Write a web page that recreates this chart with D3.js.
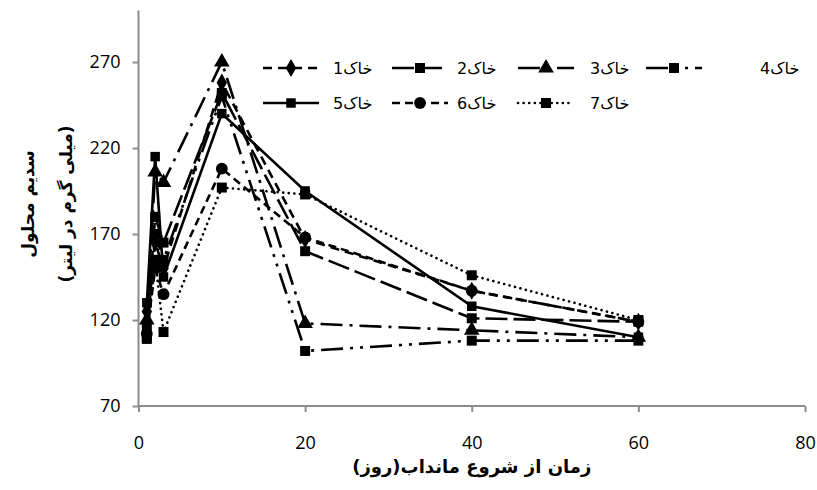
<!DOCTYPE html>
<html>
<head>
<meta charset="utf-8">
<script src="https://cdn.jsdelivr.net/npm/d3@7"></script>
<style>
  html, body { margin: 0; padding: 0; background: #fff; }
  svg { display: block; }
</style>
</head>
<body>
<svg id="chart" width="817" height="490"></svg>
<script>
// Days since the start of submergence
const days = [1, 2, 3, 10, 20, 40, 60];

// Soluble sodium (mg/L) for each soil
const soil1 = [125, 165, 150, 258, 167, 137, 119];
const soil2 = [115, 180, 165, 252, 160, 121, 119];
const soil3 = [120, 206, 200, 270, 118, 114, 110];
const soil4 = [110, 170, 155, 250, 102, 108, 108];
const soil5 = [130, 215, 145, 240, 195, 128, 110];
const soil6 = [112, 150, 135, 208, 168, 137, 119];
const soil7 = [109, 155, 113, 197, 193, 146, 120];

const seriesNames = ["خاک1", "خاک2", "خاک3", "خاک4", "خاک5", "خاک6", "خاک7"];
const seriesValues = [soil1, soil2, soil3, soil4, soil5, soil6, soil7];

const xTicks = [0, 20, 40, 60, 80];
const yTicks = [70, 120, 170, 220, 270];

const xTitle = "زمان از شروع مانداب(روز)";
const yTitle1 = "سدیم محلول";
const yTitle2 = "(میلی گرم در لیتر)";

// Line / marker styles per soil
const styles = [
  { dash: "9,6",               marker: "diamond" },
  { dash: "22,6",              marker: "square" },
  { dash: "22,7,3,7",          marker: "triangle" },
  { dash: "22,7,3,7,3,7",      marker: "square" },
  { dash: null,                marker: "xsquare" },
  { dash: "8,5",               marker: "circle" },
  { dash: "0.1,5.5",           marker: "square", round: true }
];

const svg = d3.select("#chart");
const axisColor = "#8c8c8c";

const x = d3.scaleLinear().domain([0, 80]).range([138.5, 805]);
const y = d3.scaleLinear().domain([70, 300]).range([406, 10.4]);

// Axes
const xAxis = svg.append("g").attr("transform", "translate(0,406)")
  .call(d3.axisBottom(x).tickValues(xTicks).tickSize(6).tickPadding(24).tickFormat(d3.format("d")));
const yAxis = svg.append("g").attr("transform", "translate(138.5,0)")
  .call(d3.axisLeft(y).tickValues(yTicks).tickSize(6).tickPadding(12).tickFormat(d3.format("d")));

[xAxis, yAxis].forEach(g => {
  g.select(".domain").attr("stroke", axisColor).attr("stroke-width", 2);
  g.selectAll(".tick line").attr("stroke", axisColor).attr("stroke-width", 2);
  g.selectAll(".tick text").attr("fill", "#000")
    .style("font-family", "'Open Sans', 'Liberation Sans', sans-serif").style("font-size", "18px");
});
// plain axis lines without end stubs
xAxis.select(".domain").attr("d", `M${x(0)},0H${x(80)}`);
yAxis.select(".domain").attr("d", `M0,${y(70)}V${y(300)}`);

// Marker drawing
function drawMarker(g, kind, cx, cy) {
  if (kind === "diamond") {
    g.append("path").attr("d", d3.symbol().type(d3.symbolDiamond).size(95)())
      .attr("transform", `translate(${cx},${cy})`).attr("fill", "#000");
  } else if (kind === "square") {
    g.append("path").attr("d", d3.symbol().type(d3.symbolSquare).size(100)())
      .attr("transform", `translate(${cx},${cy})`).attr("fill", "#000");
  } else if (kind === "triangle") {
    g.append("path").attr("d", d3.symbol().type(d3.symbolTriangle).size(105)())
      .attr("transform", `translate(${cx},${cy})`).attr("fill", "#000");
  } else if (kind === "circle") {
    g.append("path").attr("d", d3.symbol().type(d3.symbolCircle).size(110)())
      .attr("transform", `translate(${cx},${cy})`).attr("fill", "#000");
  } else if (kind === "xsquare") {
    g.append("path").attr("d", d3.symbol().type(d3.symbolSquare).size(90)())
      .attr("transform", `translate(${cx},${cy})`).attr("fill", "#000");
    g.append("path").attr("d", d3.symbol().type(d3.symbolTimes).size(140)())
      .attr("transform", `translate(${cx},${cy})`).attr("fill", "#000");
  }
}

// Series lines and markers
const line = d3.line().x(d => x(d[0])).y(d => y(d[1]));
const plot = svg.append("g");
seriesValues.forEach((vals, i) => {
  const st = styles[i];
  const pts = days.map((d, k) => [d, vals[k]]);
  plot.append("path").datum(pts)
    .attr("d", line)
    .attr("fill", "none")
    .attr("stroke", "#000")
    .attr("stroke-width", 2.6)
    .attr("stroke-linecap", st.round ? "round" : "butt")
    .attr("stroke-dasharray", st.dash);
  const mg = plot.append("g");
  pts.forEach(p => drawMarker(mg, st.marker, x(p[0]), y(p[1])));
});

// Legend (two rows)
const legendPos = [
  { sx: 263, tx: 333, ty: 68 },
  { sx: 392, tx: 457, ty: 68 },
  { sx: 518, tx: 590, ty: 68 },
  { sx: 646, tx: 760, ty: 68 },
  { sx: 263, tx: 333, ty: 103 },
  { sx: 392, tx: 457, ty: 103 },
  { sx: 518, tx: 590, ty: 103 }
];
const legend = svg.append("g");
seriesNames.forEach((name, i) => {
  const st = styles[i];
  const p = legendPos[i];
  const sampleW = 56;
  legend.append("line")
    .attr("x1", p.sx).attr("x2", p.sx + sampleW)
    .attr("y1", p.ty).attr("y2", p.ty)
    .attr("stroke", "#000").attr("stroke-width", 2.6)
    .attr("stroke-linecap", st.round ? "round" : "butt")
    .attr("stroke-dasharray", st.dash);
  drawMarker(legend, st.marker, p.sx + sampleW / 2, p.ty);
  legend.append("text")
    .attr("x", p.tx).attr("y", p.ty + 6)
    .style("font-family", "'DejaVu Sans', 'Liberation Sans', sans-serif")
    .style("font-size", "16px")
    .text(name);
});

// Axis titles
svg.append("text")
  .attr("x", x(40)).attr("y", 473)
  .attr("text-anchor", "middle").attr("direction", "rtl")
  .style("font-family", "'DejaVu Sans', sans-serif").style("font-weight", "bold").style("font-size", "18px")
  .text(xTitle);

const yt = svg.append("g").attr("transform", "translate(0,204) rotate(-90)");
yt.append("text").attr("x", 0).attr("y", 34)
  .attr("text-anchor", "middle").attr("direction", "rtl")
  .style("font-family", "'DejaVu Sans', sans-serif").style("font-weight", "bold").style("font-size", "17px")
  .text(yTitle1);
yt.append("text").attr("x", 0).attr("y", 72)
  .attr("text-anchor", "middle").attr("direction", "rtl")
  .style("font-family", "'DejaVu Sans', sans-serif").style("font-weight", "bold").style("font-size", "17px")
  .text(yTitle2);
</script>
</body>
</html>
